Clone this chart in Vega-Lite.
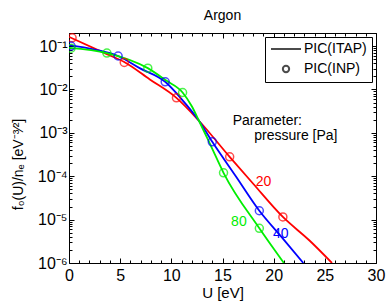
{
  "$schema": "https://vega.github.io/schema/vega-lite/v6.json",
  "width": 307,
  "height": 230,
  "autosize": "none",
  "padding": {"left": 69, "top": 33, "right": 14, "bottom": 42},
  "title": {"text": "Argon", "fontSize": 14, "fontWeight": "normal", "font": "Liberation Sans", "color": "black", "offset": 10, "anchor": "middle"},
  "config": {
    "view": {"stroke": "black", "strokeWidth": 1},
    "font": "Liberation Sans",
    "axis": {"grid": false, "domain": false, "tickColor": "black", "labelColor": "black", "titleColor": "black", "labelFontSize": 16, "titleFontSize": 15, "titleFontWeight": "normal", "labelFont": "Liberation Sans", "titleFont": "Liberation Sans"}
  },
  "datasets": {
    "lines": [
      {"pressure": "20", "U": 0, "f": 0.163},
      {"pressure": "20", "U": 3.7, "f": 0.065},
      {"pressure": "20", "U": 5.4, "f": 0.043},
      {"pressure": "20", "U": 7.9, "f": 0.017},
      {"pressure": "20", "U": 10.5, "f": 0.0064},
      {"pressure": "20", "U": 12.7, "f": 0.0019},
      {"pressure": "20", "U": 15.7, "f": 0.00028},
      {"pressure": "20", "U": 18, "f": 0.000067},
      {"pressure": "20", "U": 20.9, "f": 0.0000115},
      {"pressure": "20", "U": 23.5, "f": 0.0000033},
      {"pressure": "20", "U": 25.7, "f": 0.000001},
      {"pressure": "40", "U": 0, "f": 0.105},
      {"pressure": "40", "U": 2.5, "f": 0.083},
      {"pressure": "40", "U": 4.8, "f": 0.059},
      {"pressure": "40", "U": 6.9, "f": 0.031},
      {"pressure": "40", "U": 9.4, "f": 0.015},
      {"pressure": "40", "U": 11, "f": 0.006},
      {"pressure": "40", "U": 12.7, "f": 0.0019},
      {"pressure": "40", "U": 14, "f": 0.00062},
      {"pressure": "40", "U": 16.3, "f": 0.0001},
      {"pressure": "40", "U": 18.6, "f": 0.000016},
      {"pressure": "40", "U": 20.8, "f": 0.0000039},
      {"pressure": "40", "U": 22.9, "f": 0.000001},
      {"pressure": "80", "U": 0, "f": 0.091},
      {"pressure": "80", "U": 3.7, "f": 0.069},
      {"pressure": "80", "U": 7.7, "f": 0.031},
      {"pressure": "80", "U": 9.5, "f": 0.016},
      {"pressure": "80", "U": 11.1, "f": 0.0085},
      {"pressure": "80", "U": 12, "f": 0.0041},
      {"pressure": "80", "U": 12.7, "f": 0.0019},
      {"pressure": "80", "U": 13.9, "f": 0.00048},
      {"pressure": "80", "U": 15.1, "f": 0.00012},
      {"pressure": "80", "U": 18.6, "f": 0.0000063},
      {"pressure": "80", "U": 21, "f": 0.000001}
    ],
    "points": [
      {"pressure": "20", "kind": "PIC(INP)", "U": 0.3, "f": 0.155},
      {"pressure": "20", "kind": "PIC(INP)", "U": 5.4, "f": 0.042},
      {"pressure": "20", "kind": "PIC(INP)", "U": 10.5, "f": 0.0064},
      {"pressure": "20", "kind": "PIC(INP)", "U": 15.7, "f": 0.00028},
      {"pressure": "20", "kind": "PIC(INP)", "U": 20.9, "f": 0.0000115},
      {"pressure": "40", "kind": "PIC(INP)", "U": 0.2, "f": 0.1},
      {"pressure": "40", "kind": "PIC(INP)", "U": 4.8, "f": 0.059},
      {"pressure": "40", "kind": "PIC(INP)", "U": 9.4, "f": 0.015},
      {"pressure": "40", "kind": "PIC(INP)", "U": 14, "f": 0.00062},
      {"pressure": "40", "kind": "PIC(INP)", "U": 18.6, "f": 0.000016},
      {"pressure": "80", "kind": "PIC(INP)", "U": 0.2, "f": 0.089},
      {"pressure": "80", "kind": "PIC(INP)", "U": 3.7, "f": 0.069},
      {"pressure": "80", "kind": "PIC(INP)", "U": 7.7, "f": 0.031},
      {"pressure": "80", "kind": "PIC(INP)", "U": 11.1, "f": 0.0085},
      {"pressure": "80", "kind": "PIC(INP)", "U": 15.1, "f": 0.00012},
      {"pressure": "80", "kind": "PIC(INP)", "U": 18.6, "f": 0.0000063}
    ],
    "labels": [
      {"pressure": "20", "label": "20", "U": 19.0, "f": 0.000059},
      {"pressure": "40", "label": "40", "U": 20.7, "f": 0.0000038},
      {"pressure": "80", "label": "80", "U": 16.6, "f": 0.0000072}
    ],
    "notes": [
      {"label": "Parameter:", "U": 16.0, "f": 0.0015},
      {"label": "pressure [Pa]", "U": 18.1, "f": 0.00069}
    ]
  },
  "layer": [
    {
      "data": {"name": "lines"},
      "mark": {"type": "line", "interpolate": "monotone", "strokeWidth": 1.8, "clip": true},
      "encoding": {
        "x": {"field": "U", "type": "quantitative", "scale": {"domain": [0, 30], "nice": false, "zero": false},
          "axis": {"orient": "bottom", "values": [0, 5, 10, 15, 20, 25, 30], "title": "U [eV]", "tickSize": -5, "labelPadding": 9, "labelFlush": false, "titleY": 34, "titleBaseline": "alphabetic"}},
        "y": {"field": "f", "type": "quantitative", "scale": {"type": "log", "domain": [0.000001, 0.2], "nice": false},
          "axis": {"orient": "left", "values": [0.000001, 0.00001, 0.0001, 0.001, 0.01, 0.1], "title": "f₀(U)/nₑ [eV⁻³⁄²]", "tickSize": -5, "labelPadding": 7,
            "labelExpr": "datum.value < 2e-6 ? '10⁻⁶' : datum.value < 2e-5 ? '10⁻⁵' : datum.value < 2e-4 ? '10⁻⁴' : datum.value < 2e-3 ? '10⁻³' : datum.value < 2e-2 ? '10⁻²' : '10⁻¹'",
            "titleFontSize": 14, "titleX": -47, "titleY": 131, "titleBaseline": "alphabetic", "titleAlign": "center", "titleAngle": -90}},
        "color": {"field": "pressure", "type": "nominal", "scale": {"domain": ["20", "40", "80"], "range": ["#ff0000", "#0000ff", "#00ee00"]}, "legend": null}
      }
    },
    {
      "data": {"name": "points"},
      "mark": {"type": "point", "filled": false, "size": 64, "strokeWidth": 1.5, "clip": true},
      "encoding": {
        "x": {"field": "U", "type": "quantitative", "scale": {"domain": [0, 30], "nice": false, "zero": false},
          "axis": {"orient": "bottom", "values": [1,2,3,4,6,7,8,9,11,12,13,14,16,17,18,19,21,22,23,24,26,27,28,29], "labels": false, "tickSize": -3, "title": null}},
        "y": {"field": "f", "type": "quantitative", "scale": {"type": "log", "domain": [0.000001, 0.2], "nice": false},
          "axis": {"orient": "left", "values": [0.000002,0.000003,0.000004,0.000005,0.000006,0.000007,0.000008,0.000009,0.00002,0.00003,0.00004,0.00005,0.00006,0.00007,0.00008,0.00009,0.0002,0.0003,0.0004,0.0005,0.0006,0.0007,0.0008,0.0009,0.002,0.003,0.004,0.005,0.006,0.007,0.008,0.009,0.02,0.03,0.04,0.05,0.06,0.07,0.08,0.09,0.2], "labels": false, "tickSize": -3, "title": null}},
        "color": {"field": "pressure", "type": "nominal", "scale": {"domain": ["20", "40", "80"], "range": ["#ff0000", "#0000ff", "#00ee00"]}, "legend": null},
        "shape": {"field": "kind", "type": "nominal", "scale": {"domain": ["PIC(ITAP)", "PIC(INP)"], "range": ["M-4.75,0H4.75", "circle"]},
          "legend": {"title": null, "orient": "top-right", "offset": 4, "padding": 5, "strokeColor": "black", "fillColor": "white", "labelFontSize": 14, "labelFont": "Liberation Sans", "labelColor": "black", "symbolStrokeColor": "black", "symbolStrokeWidth": 2, "symbolSize": 40, "symbolFillColor": "transparent", "rowPadding": 5, "symbolOffset": 9, "labelOffset": 11}}
      }
    },
    {
      "data": {"name": "labels"},
      "mark": {"type": "text", "fontSize": 14, "align": "center", "baseline": "alphabetic", "font": "Liberation Sans"},
      "encoding": {
        "x": {"field": "U", "type": "quantitative", "scale": {"domain": [0, 30], "nice": false, "zero": false},
          "axis": {"orient": "top", "values": [0, 5, 10, 15, 20, 25, 30], "labels": false, "tickSize": -5, "title": null}},
        "y": {"field": "f", "type": "quantitative", "scale": {"type": "log", "domain": [0.000001, 0.2], "nice": false},
          "axis": {"orient": "right", "values": [0.000001, 0.00001, 0.0001, 0.001, 0.01, 0.1], "labels": false, "tickSize": -5, "title": null}},
        "text": {"field": "label", "type": "nominal"},
        "color": {"field": "pressure", "type": "nominal", "scale": {"domain": ["20", "40", "80"], "range": ["#ff0000", "#0000ff", "#00ee00"]}, "legend": null}
      }
    },
    {
      "data": {"name": "notes"},
      "mark": {"type": "text", "fontSize": 14, "align": "left", "baseline": "alphabetic", "font": "Liberation Sans", "color": "black"},
      "encoding": {
        "x": {"field": "U", "type": "quantitative", "scale": {"domain": [0, 30], "nice": false, "zero": false},
          "axis": {"orient": "top", "values": [1,2,3,4,6,7,8,9,11,12,13,14,16,17,18,19,21,22,23,24,26,27,28,29], "labels": false, "tickSize": -3, "title": null}},
        "y": {"field": "f", "type": "quantitative", "scale": {"type": "log", "domain": [0.000001, 0.2], "nice": false},
          "axis": {"orient": "right", "values": [0.000002,0.000003,0.000004,0.000005,0.000006,0.000007,0.000008,0.000009,0.00002,0.00003,0.00004,0.00005,0.00006,0.00007,0.00008,0.00009,0.0002,0.0003,0.0004,0.0005,0.0006,0.0007,0.0008,0.0009,0.002,0.003,0.004,0.005,0.006,0.007,0.008,0.009,0.02,0.03,0.04,0.05,0.06,0.07,0.08,0.09,0.2], "labels": false, "tickSize": -3, "title": null}},
        "text": {"field": "label", "type": "nominal"}
      }
    }
  ],
  "resolve": {"axis": {"x": "independent", "y": "independent"}}
}
